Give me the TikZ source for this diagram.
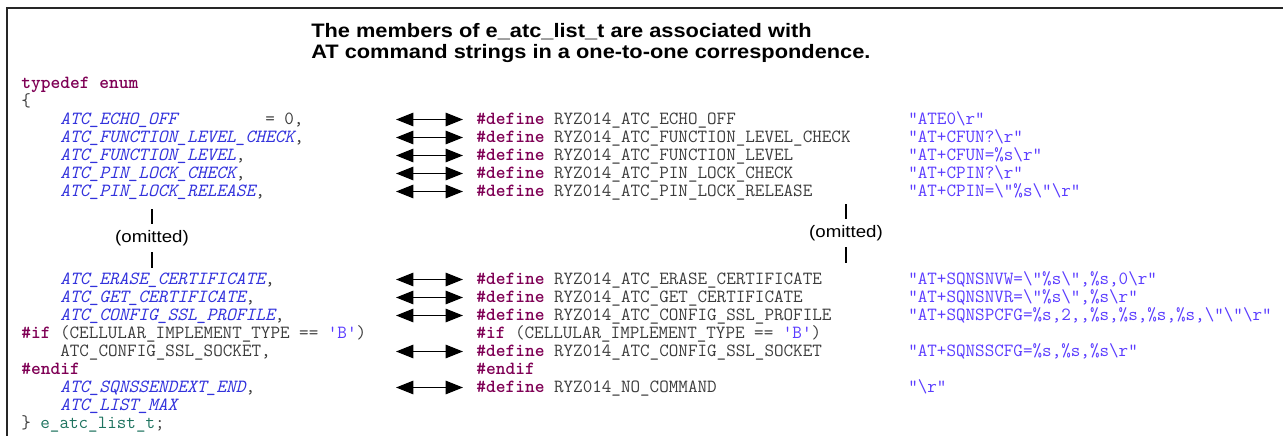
\documentclass[tikz,border=0pt]{standalone}
\usepackage{fontspec}
\usetikzlibrary{arrows.meta}
\newfontfamily\headfont[FakeStretch=1.12]{Liberation Sans}
\definecolor{kwdcol}{RGB}{127,0,85}
\definecolor{enmcol}{RGB}{50,50,220}
\definecolor{strcol}{RGB}{90,60,255}
\definecolor{typcol}{RGB}{30,115,95}
\definecolor{txtcol}{RGB}{60,60,60}
\newcommand{\kwd}[1]{{\bfseries\color{kwdcol}#1}}
\newcommand{\enm}[1]{{\itshape\color{enmcol}#1}}
\newcommand{\atstr}[1]{{\color{strcol}#1}}
\newcommand{\bsl}{\textbackslash}
\tikzset{
  code/.style={anchor=base west, inner sep=0pt, text=txtcol, font=\ttfamily\fontsize{13.93}{16}\selectfont},
  head/.style={anchor=base west, inner sep=0pt, font=\headfont\bfseries\fontsize{14.6}{17}\selectfont},
  note/.style={inner sep=4.5pt, font=\headfont\fontsize{12.5}{14}\selectfont},
  pair/.style={{Triangle[length=13pt,width=10pt]}-{Triangle[length=13pt,width=10pt]}, line width=1.4pt},
  bar/.style={line width=1.1pt}
}
\begin{document}
\begin{tikzpicture}[x=0.75pt, y=-0.75pt]
    \useasboundingbox (0,0) rectangle (1283,436) ;
    \draw [line width=1.3pt, black!85] (7,445) -- (7,8) -- (1290,8) ;

    \node [head] (head1) at (311,37) {The members of e\_atc\_list\_t are associated with} ;
    \node [head] (head2) at (311,58) {AT command strings in a one-to-one correspondence.} ;

    \node [code] (tdef) at (21,88) {\kwd{typedef enum}} ;
    \node [code] (lbr) at (21,106) {\{} ;
    \node [code] (e1) at (60,124) {\enm{ATC\_ECHO\_OFF}} ;
    \node [code] (e1v) at (265,124) {= 0,} ;
    \node [code] (e2) at (60,142) {\enm{ATC\_FUNCTION\_LEVEL\_CHECK},} ;
    \node [code] (e3) at (60,160) {\enm{ATC\_FUNCTION\_LEVEL},} ;
    \node [code] (e4) at (60,178) {\enm{ATC\_PIN\_LOCK\_CHECK},} ;
    \node [code] (e5) at (60,196) {\enm{ATC\_PIN\_LOCK\_RELEASE},} ;
    \node [code] (e6) at (60,284) {\enm{ATC\_ERASE\_CERTIFICATE},} ;
    \node [code] (e7) at (60,302) {\enm{ATC\_GET\_CERTIFICATE},} ;
    \node [code] (e8) at (60,320) {\enm{ATC\_CONFIG\_SSL\_PROFILE},} ;
    \node [code] (lif) at (21,338) {\kwd{\#if} (CELLULAR\_IMPLEMENT\_TYPE == \atstr{\textquotesingle B\textquotesingle})} ;
    \node [code] (e9) at (60,356) {ATC\_CONFIG\_SSL\_SOCKET,} ;
    \node [code] (lend) at (21,374) {\kwd{\#endif}} ;
    \node [code] (e10) at (60,392) {\enm{ATC\_SQNSSENDEXT\_END},} ;
    \node [code] (e11) at (60,410) {\enm{ATC\_LIST\_MAX}} ;
    \node [code] (rbr) at (21,428) {\} \textcolor{typcol}{e\_atc\_list\_t};} ;

    \node [code] (d1) at (476,124) {\kwd{\#define} RYZ014\_ATC\_ECHO\_OFF} ;
    \node [code] (d2) at (476,142) {\kwd{\#define} RYZ014\_ATC\_FUNCTION\_LEVEL\_CHECK} ;
    \node [code] (d3) at (476,160) {\kwd{\#define} RYZ014\_ATC\_FUNCTION\_LEVEL} ;
    \node [code] (d4) at (476,178) {\kwd{\#define} RYZ014\_ATC\_PIN\_LOCK\_CHECK} ;
    \node [code] (d5) at (476,196) {\kwd{\#define} RYZ014\_ATC\_PIN\_LOCK\_RELEASE} ;
    \node [code] (d6) at (476,284) {\kwd{\#define} RYZ014\_ATC\_ERASE\_CERTIFICATE} ;
    \node [code] (d7) at (476,302) {\kwd{\#define} RYZ014\_ATC\_GET\_CERTIFICATE} ;
    \node [code] (d8) at (476,320) {\kwd{\#define} RYZ014\_ATC\_CONFIG\_SSL\_PROFILE} ;
    \node [code] (dif) at (476,338) {\kwd{\#if} (CELLULAR\_IMPLEMENT\_TYPE == \atstr{\textquotesingle B\textquotesingle})} ;
    \node [code] (d9) at (476,356) {\kwd{\#define} RYZ014\_ATC\_CONFIG\_SSL\_SOCKET} ;
    \node [code] (dend) at (476,374) {\kwd{\#endif}} ;
    \node [code] (d10) at (476,392) {\kwd{\#define} RYZ014\_NO\_COMMAND} ;

    \node [code] (s1) at (908,124) {\atstr{"ATE0\bsl r"}} ;
    \node [code] (s2) at (908,142) {\atstr{"AT+CFUN?\bsl r"}} ;
    \node [code] (s3) at (908,160) {\atstr{"AT+CFUN=\%s\bsl r"}} ;
    \node [code] (s4) at (908,178) {\atstr{"AT+CPIN?\bsl r"}} ;
    \node [code] (s5) at (908,196) {\atstr{"AT+CPIN=\bsl"\%s\bsl"\bsl r"}} ;
    \node [code] (s6) at (908,284) {\atstr{"AT+SQNSNVW=\bsl"\%s\bsl",\%s,0\bsl r"}} ;
    \node [code] (s7) at (908,302) {\atstr{"AT+SQNSNVR=\bsl"\%s\bsl",\%s\bsl r"}} ;
    \node [code] (s8) at (908,320) {\atstr{"AT+SQNSPCFG=\%s,2,,\%s,\%s,\%s,\%s,\bsl"\bsl"\bsl r"}} ;
    \node [code] (s9) at (908,356) {\atstr{"AT+SQNSSCFG=\%s,\%s,\%s\bsl r"}} ;
    \node [code] (s10) at (908,392) {\atstr{"\bsl r"}} ;

    \foreach \y [count=\i] in {119.5,137.5,155.5,173.5,191.5,279.5,297.5,315.5,351.5,387.5} {
        \coordinate (al\i) at (396,\y) ;
        \coordinate (ar\i) at (463,\y) ;
        \draw [pair] (al\i) -- (ar\i) ;
    }

    \node [note] (om1) at (152,238) {(omitted)} ;
    \draw [bar] (om1.north) -- ++(0,-15) ;
    \draw [bar] (om1.south) -- ++(0,16) ;
    \node [note] (om2) at (846,233) {(omitted)} ;
    \draw [bar] (om2.north) -- ++(0,-15) ;
    \draw [bar] (om2.south) -- ++(0,16) ;
\end{tikzpicture}
\end{document}
